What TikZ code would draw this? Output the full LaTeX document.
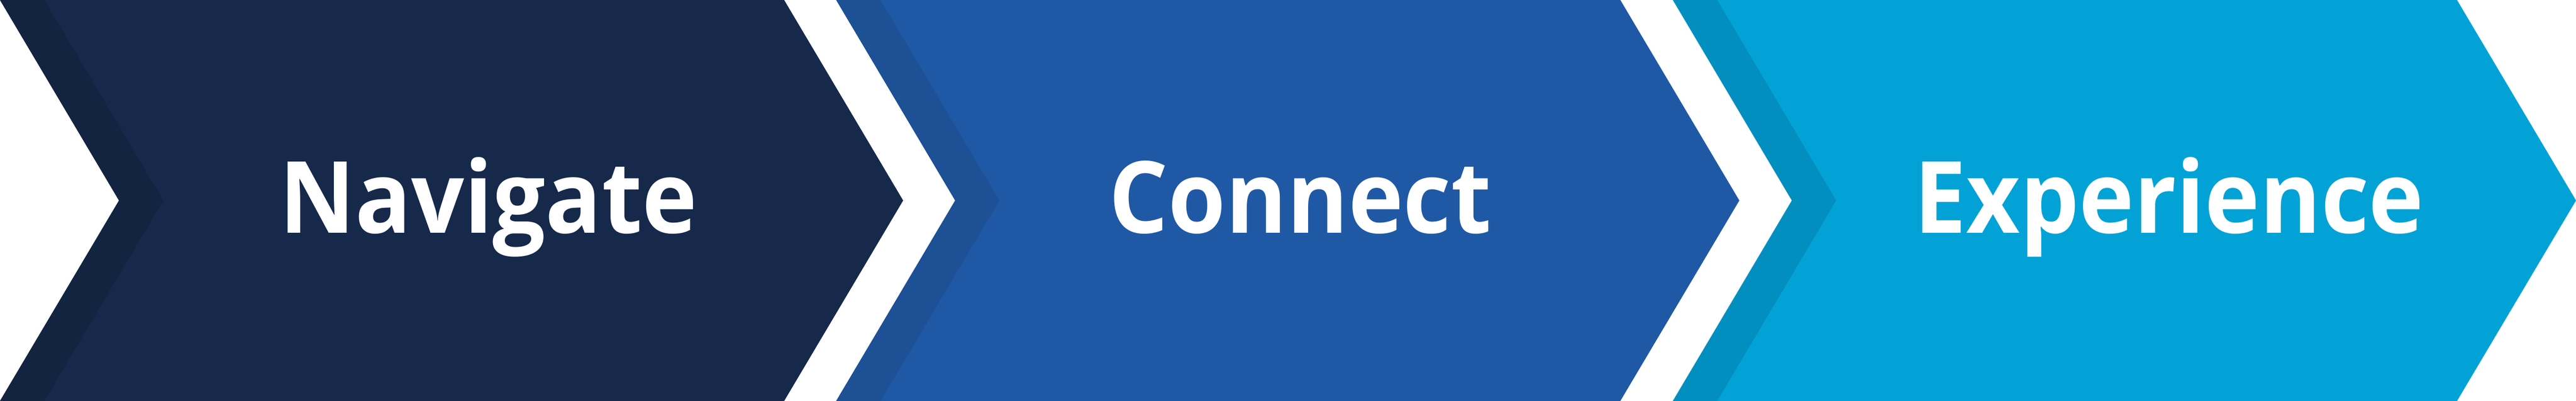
\documentclass[tikz,border=0pt]{standalone}
\usepackage{fontspec}
\setmainfont{Open Sans}
\definecolor{navmain}{HTML}{16294B}
\definecolor{navband}{HTML}{132441}
\definecolor{conmain}{HTML}{1F59A6}
\definecolor{conband}{HTML}{1D5095}
\definecolor{expmain}{HTML}{03A2D6}
\definecolor{expband}{HTML}{028FC0}
\tikzset{
  label text/.style={text=white, font=\fontsize{55}{60}\selectfont\bfseries, anchor=base, inner sep=0pt, xscale=0.935, transform shape},
}
\newcommand{\chevronpair}[3]{%
  \fill[#2] (#1,7.77) -- ++(15.22,0) -- (#1+17.53,3.885) -- (#1+15.22,0) -- (#1,0) -- (#1+2.31,3.885) -- cycle;
  \fill[#3] (#1,7.77) -- (#1+0.86,7.77) -- (#1+3.17,3.885) -- (#1+0.86,0) -- (#1,0) -- (#1+2.31,3.885) -- cycle;
}
\begin{document}
\begin{tikzpicture}
\useasboundingbox (0,0) rectangle (50,7.77);
\chevronpair{0}{navmain}{navband}
\chevronpair{16.23}{conmain}{conband}
\chevronpair{32.47}{expmain}{expband}
\node[label text] (nav) at (9.48,3.25) {Navigate};
\node[label text] (con) at (25.24,3.25) {Connect};
\node[label text] (exp) at (42.10,3.25) {Experience};
\end{tikzpicture}
\end{document}
